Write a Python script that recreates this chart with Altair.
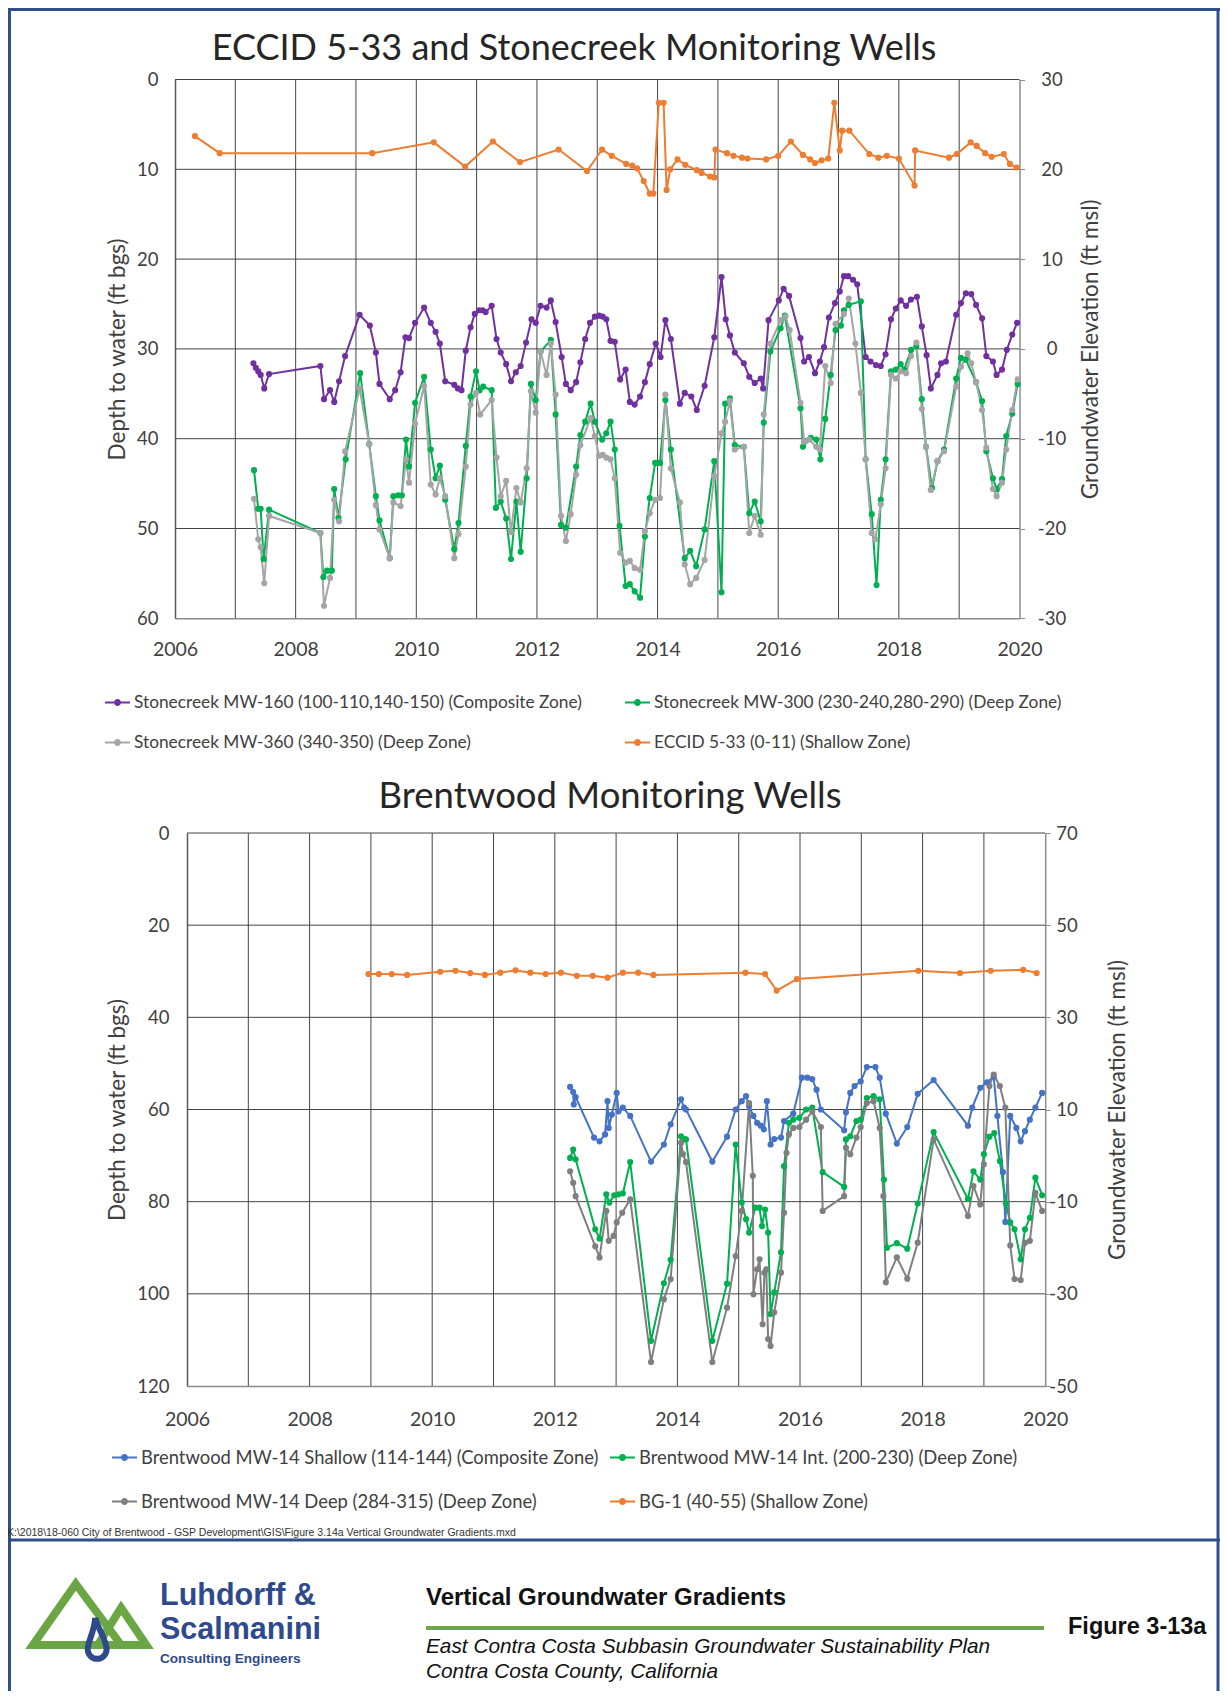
import altair as alt
import pandas as pd

W, H = 1212, 1683
FONT = "Lato"
SANS = "Liberation Sans, Arial, sans-serif"
GRID = "#454545"
TXT = "#404040"

# ---------------- series names / colours ----------------
top_names = ["Stonecreek MW-160 (100-110,140-150) (Composite Zone)",
             "Stonecreek MW-300 (230-240,280-290) (Deep Zone)",
             "Stonecreek MW-360 (340-350) (Deep Zone)",
             "ECCID 5-33 (0-11) (Shallow Zone)"]
top_colors = ["#7030A0", "#00B050", "#A5A5A5", "#ED7D31"]

bot_names = ["Brentwood MW-14 Shallow (114-144) (Composite Zone)",
             "Brentwood MW-14 Int. (200-230) (Deep Zone)",
             "Brentwood MW-14 Deep (284-315) (Deep Zone)",
             "BG-1 (40-55) (Shallow Zone)"]
bot_colors = ["#4472C4", "#00B050", "#7F7F7F", "#ED7D31"]

# legend shows entries row by row; Vega fills columns first, so order 0,2,1,3
LEG_ORDER = [0, 2, 1, 3]

# ---------------- top panel data (decimal year, depth ft bgs) ----------------
mw160_year = [2007.30, 2007.34, 2007.38, 2007.42, 2007.48, 2007.56, 2008.41, 2008.47, 2008.57, 2008.64,
              2008.72, 2008.82, 2009.06, 2009.23, 2009.33, 2009.39, 2009.56, 2009.65, 2009.74, 2009.82,
              2009.88, 2009.98, 2010.13, 2010.24, 2010.32, 2010.39, 2010.48, 2010.63, 2010.69, 2010.75,
              2010.82, 2010.90, 2010.97, 2011.04, 2011.10, 2011.15, 2011.25, 2011.33, 2011.40, 2011.49,
              2011.57, 2011.65, 2011.73, 2011.82, 2011.91, 2011.98, 2012.06, 2012.16, 2012.23, 2012.31,
              2012.41, 2012.48, 2012.56, 2012.65, 2012.72, 2012.80, 2012.88, 2012.96, 2013.03, 2013.09,
              2013.15, 2013.22, 2013.29, 2013.38, 2013.47, 2013.54, 2013.62, 2013.71, 2013.79, 2013.87,
              2013.97, 2014.05, 2014.13, 2014.22, 2014.37, 2014.45, 2014.56, 2014.65, 2014.78, 2014.94,
              2015.06, 2015.13, 2015.20, 2015.28, 2015.43, 2015.52, 2015.61, 2015.71, 2015.75, 2015.84,
              2016.01, 2016.09, 2016.18, 2016.37, 2016.43, 2016.51, 2016.61, 2016.69, 2016.76, 2016.84,
              2016.94, 2017.02, 2017.09, 2017.16, 2017.24, 2017.31, 2017.45, 2017.53, 2017.62, 2017.70,
              2017.78, 2017.87, 2017.95, 2018.03, 2018.12, 2018.20, 2018.30, 2018.38, 2018.46, 2018.53,
              2018.64, 2018.70, 2018.78, 2018.95, 2019.03, 2019.11, 2019.20, 2019.28, 2019.38, 2019.45,
              2019.56, 2019.62, 2019.71, 2019.79, 2019.88, 2019.96]
mw160_depth = [31.6, 32.1, 32.5, 32.9, 34.4, 32.8, 31.9, 35.6, 34.6, 35.9,
               33.6, 30.8, 26.2, 27.4, 30.4, 33.9, 35.6, 34.6, 32.6, 28.7,
               28.8, 27.1, 25.4, 27.1, 28.1, 29.4, 33.6, 34.0, 34.4, 34.6,
               30.2, 27.6, 26.1, 25.7, 25.7, 25.9, 25.2, 28.9, 30.4, 31.7,
               33.6, 32.6, 31.9, 29.3, 26.7, 27.1, 25.2, 25.4, 24.6, 27.0,
               30.9, 33.9, 34.6, 33.7, 31.5, 28.9, 27.1, 26.4, 26.3, 26.4,
               26.7, 29.1, 29.2, 33.4, 32.3, 35.9, 36.2, 35.3, 33.7, 31.7,
               29.4, 30.9, 26.8, 28.9, 36.1, 34.9, 35.3, 36.8, 34.1, 28.7,
               22.0, 26.7, 28.5, 30.4, 31.6, 33.1, 33.8, 33.3, 34.4, 26.8,
               24.6, 23.3, 24.1, 28.8, 31.4, 30.9, 32.7, 31.4, 29.8, 26.5,
               24.9, 23.6, 21.9, 21.9, 22.3, 22.8, 30.9, 31.4, 31.8, 31.9,
               30.6, 26.7, 25.5, 24.6, 25.2, 24.5, 24.2, 27.5, 30.7, 34.4,
               32.9, 31.6, 31.4, 26.2, 24.9, 23.8, 23.9, 25.1, 26.6, 30.8,
               31.4, 32.9, 32.3, 30.1, 28.4, 27.1]

mw300_year = [2007.31, 2007.38, 2007.42, 2007.47, 2007.56, 2008.41, 2008.46, 2008.52, 2008.60, 2008.64,
              2008.71, 2008.83, 2009.07, 2009.22, 2009.33, 2009.39, 2009.56, 2009.62, 2009.70, 2009.76,
              2009.83, 2009.88, 2009.98, 2010.13, 2010.24, 2010.32, 2010.39, 2010.48, 2010.63, 2010.70,
              2010.82, 2010.90, 2010.99, 2011.05, 2011.11, 2011.25, 2011.32, 2011.40, 2011.49, 2011.57,
              2011.66, 2011.73, 2011.83, 2011.90, 2011.98, 2012.06, 2012.23, 2012.31, 2012.40, 2012.48,
              2012.65, 2012.72, 2012.80, 2012.89, 2012.96, 2013.08, 2013.15, 2013.22, 2013.29, 2013.37,
              2013.47, 2013.54, 2013.62, 2013.71, 2013.79, 2013.87, 2013.96, 2014.04, 2014.13, 2014.22,
              2014.45, 2014.54, 2014.64, 2014.78, 2014.94, 2015.06, 2015.12, 2015.20, 2015.28, 2015.43,
              2015.52, 2015.61, 2015.71, 2015.76, 2015.87, 2016.04, 2016.11, 2016.37, 2016.41, 2016.54,
              2016.63, 2016.70, 2016.78, 2016.87, 2016.95, 2017.04, 2017.09, 2017.17, 2017.37, 2017.45,
              2017.55, 2017.63, 2017.70, 2017.78, 2017.87, 2017.95, 2018.03, 2018.09, 2018.20, 2018.29,
              2018.38, 2018.45, 2018.55, 2018.64, 2018.75, 2018.95, 2019.03, 2019.11, 2019.28, 2019.38,
              2019.45, 2019.56, 2019.62, 2019.71, 2019.78, 2019.88, 2019.97]
mw300_depth = [43.5, 47.8, 47.8, 53.4, 47.9, 50.5, 55.4, 54.7, 54.7, 45.6,
               48.8, 42.3, 32.7, 40.6, 46.4, 49.1, 53.3, 46.4, 46.3, 46.3,
               40.1, 43.1, 36.0, 33.1, 41.2, 44.4, 43.0, 46.8, 52.3, 49.4,
               40.8, 35.3, 32.5, 34.6, 34.2, 34.6, 47.7, 47.0, 48.9, 53.4,
               47.0, 52.6, 44.4, 33.9, 35.7, 30.3, 29.0, 37.3, 49.6, 49.9,
               43.1, 39.6, 38.1, 36.1, 38.1, 40.1, 39.4, 38.1, 41.2, 49.7,
               56.4, 56.2, 57.0, 57.7, 50.9, 46.6, 42.7, 42.7, 35.7, 41.2,
               53.3, 52.5, 54.2, 50.1, 42.5, 57.1, 36.1, 35.5, 40.7, 40.9,
               48.3, 47.0, 49.2, 38.2, 30.3, 27.7, 26.3, 36.6, 40.9, 39.9,
               40.1, 42.3, 37.8, 32.9, 27.9, 27.4, 25.7, 25.1, 24.7, 42.3,
               48.4, 56.3, 46.8, 42.3, 32.5, 32.3, 31.7, 32.3, 30.1, 29.7,
               35.6, 40.9, 45.5, 42.5, 41.2, 33.3, 31.0, 31.2, 33.7, 35.8,
               41.4, 44.4, 45.6, 44.5, 39.7, 37.2, 33.9]

mw360_year = [2007.31, 2007.38, 2007.42, 2007.48, 2007.56, 2008.41, 2008.47, 2008.57, 2008.64, 2008.72,
              2008.82, 2009.06, 2009.22, 2009.33, 2009.39, 2009.56, 2009.62, 2009.74, 2009.83, 2009.88,
              2009.98, 2010.13, 2010.24, 2010.32, 2010.39, 2010.48, 2010.63, 2010.70, 2010.82, 2010.90,
              2010.99, 2011.06, 2011.25, 2011.33, 2011.40, 2011.49, 2011.57, 2011.66, 2011.73, 2011.83,
              2011.90, 2011.98, 2012.06, 2012.16, 2012.23, 2012.31, 2012.40, 2012.48, 2012.56, 2012.65,
              2012.72, 2012.89, 2012.96, 2013.03, 2013.09, 2013.15, 2013.22, 2013.29, 2013.38, 2013.47,
              2013.54, 2013.62, 2013.71, 2013.79, 2013.87, 2013.96, 2014.04, 2014.13, 2014.22, 2014.37,
              2014.45, 2014.54, 2014.64, 2014.78, 2014.94, 2015.06, 2015.12, 2015.20, 2015.28, 2015.43,
              2015.52, 2015.61, 2015.71, 2015.76, 2015.87, 2016.04, 2016.12, 2016.19, 2016.37, 2016.43,
              2016.51, 2016.63, 2016.69, 2016.78, 2016.87, 2016.95, 2017.09, 2017.17, 2017.28, 2017.37,
              2017.45, 2017.55, 2017.61, 2017.70, 2017.78, 2017.87, 2017.95, 2018.03, 2018.12, 2018.20,
              2018.29, 2018.38, 2018.45, 2018.53, 2018.64, 2018.75, 2018.95, 2019.03, 2019.14, 2019.20,
              2019.28, 2019.38, 2019.45, 2019.56, 2019.62, 2019.71, 2019.78, 2019.88, 2019.97]
mw360_depth = [46.7, 51.2, 52.1, 56.1, 48.6, 50.5, 58.6, 55.5, 46.8, 49.2,
               41.4, 34.4, 40.6, 47.4, 50.1, 53.3, 47.1, 47.5, 42.3, 44.9,
               38.3, 34.1, 45.1, 46.2, 44.4, 46.4, 53.3, 50.6, 43.1, 36.2,
               34.9, 37.3, 35.7, 42.1, 46.4, 44.7, 50.4, 45.5, 47.1, 43.3,
               34.7, 37.1, 30.3, 32.9, 29.4, 35.1, 48.6, 51.4, 48.4, 44.0,
               40.7, 37.7, 39.7, 41.9, 41.8, 42.1, 42.3, 44.4, 52.7, 53.8,
               53.6, 54.4, 54.6, 50.3, 48.3, 46.8, 46.6, 35.1, 43.3, 47.1,
               54.0, 56.2, 55.5, 53.5, 44.2, 39.4, 38.1, 35.8, 41.2, 40.9,
               50.5, 48.6, 50.7, 37.3, 29.4, 26.8, 26.4, 27.9, 36.0, 40.3,
               40.1, 40.9, 41.2, 31.9, 33.8, 27.2, 26.1, 24.4, 29.4, 34.9,
               42.3, 50.5, 51.2, 47.3, 43.3, 32.9, 33.3, 32.5, 32.7, 30.8,
               29.3, 36.7, 40.9, 45.7, 42.5, 41.4, 34.2, 32.0, 30.5, 31.6,
               33.7, 36.8, 41.0, 45.6, 46.4, 44.9, 41.2, 36.8, 33.4]

eccid_year = [2006.33, 2006.74, 2009.27, 2010.29, 2010.81, 2011.27, 2011.72, 2012.36, 2012.83, 2013.08,
              2013.24, 2013.48, 2013.58, 2013.66, 2013.77, 2013.87, 2013.93, 2014.02, 2014.10, 2014.15,
              2014.21, 2014.33, 2014.46, 2014.65, 2014.73, 2014.87, 2014.94, 2014.96, 2015.15, 2015.26,
              2015.40, 2015.49, 2015.80, 2016.00, 2016.21, 2016.41, 2016.53, 2016.61, 2016.72, 2016.83,
              2016.93, 2017.02, 2017.06, 2017.18, 2017.51, 2017.66, 2017.80, 2018.00, 2018.26, 2018.27,
              2018.83, 2018.96, 2019.19, 2019.29, 2019.43, 2019.54, 2019.74, 2019.84, 2019.95]
eccid_depth = [6.3, 8.2, 8.2, 7.0, 9.7, 6.9, 9.2, 7.8, 10.2, 7.8,
               8.5, 9.4, 9.6, 9.9, 11.3, 12.7, 12.7, 2.6, 2.6, 12.3,
               10.0, 8.9, 9.5, 10.1, 10.4, 10.8, 10.9, 7.8, 8.2, 8.5,
               8.7, 8.8, 8.9, 8.5, 6.9, 8.4, 8.9, 9.3, 9.0, 8.8,
               2.6, 7.9, 5.7, 5.7, 8.3, 8.7, 8.5, 8.8, 11.8, 7.9,
               8.7, 8.3, 7.0, 7.4, 8.2, 8.6, 8.3, 9.4, 9.8]

# ---------------- bottom panel data ----------------
shal_year = [2012.25, 2012.30, 2012.34, 2012.31, 2012.64, 2012.73, 2012.82, 2012.86, 2012.88, 2012.93,
             2013.01, 2013.04, 2013.11, 2013.23, 2013.57, 2013.78, 2013.89, 2014.06, 2014.11, 2014.14,
             2014.57, 2014.81, 2014.95, 2015.05, 2015.12, 2015.17, 2015.24, 2015.30, 2015.36, 2015.41,
             2015.46, 2015.52, 2015.58, 2015.69, 2015.74, 2015.89, 2016.03, 2016.12, 2016.20, 2016.27,
             2016.34, 2016.72, 2016.75, 2016.82, 2016.89, 2016.99, 2017.09, 2017.23, 2017.30, 2017.40,
             2017.58, 2017.75, 2017.92, 2018.18, 2018.74, 2018.81, 2018.94, 2019.05, 2019.16, 2019.22,
             2019.31, 2019.35, 2019.43, 2019.53, 2019.60, 2019.67, 2019.75, 2019.84, 2019.95]
shal_depth = [55.1, 56.2, 57.3, 58.9, 66.1, 66.9, 65.4, 58.2, 64.0, 61.1,
              56.4, 60.4, 59.6, 61.4, 71.3, 67.6, 63.2, 57.8, 59.6, 60.0,
              71.3, 65.9, 60.0, 58.2, 57.1, 59.3, 61.4, 62.9, 63.5, 64.3,
              58.2, 67.6, 66.4, 66.1, 62.5, 60.9, 53.1, 53.1, 53.4, 55.7,
              60.0, 64.5, 60.6, 56.4, 54.9, 53.9, 50.8, 50.8, 53.1, 60.9,
              67.4, 63.8, 56.6, 53.6, 63.5, 59.6, 55.3, 54.1, 52.9, 61.4,
              73.6, 84.4, 61.4, 64.0, 66.9, 64.7, 62.2, 59.6, 56.4]

int_year = [2012.25, 2012.30, 2012.34, 2012.66, 2012.73, 2012.84, 2012.89, 2012.97, 2013.04, 2013.11,
            2013.23, 2013.57, 2013.78, 2013.89, 2014.06, 2014.11, 2014.14, 2014.57, 2014.81, 2014.95,
            2015.05, 2015.12, 2015.17, 2015.27, 2015.34, 2015.38, 2015.43, 2015.48, 2015.52, 2015.58,
            2015.69, 2015.74, 2015.82, 2015.89, 2015.99, 2016.10, 2016.20, 2016.37, 2016.72, 2016.75,
            2016.82, 2016.92, 2016.99, 2017.09, 2017.20, 2017.30, 2017.37, 2017.42, 2017.58, 2017.75,
            2017.92, 2018.18, 2018.74, 2018.83, 2018.94, 2019.00, 2019.09, 2019.17, 2019.26, 2019.36,
            2019.43, 2019.50, 2019.60, 2019.67, 2019.75, 2019.84, 2019.95]
int_depth = [70.5, 68.7, 70.8, 86.0, 88.0, 78.4, 80.2, 78.6, 78.4, 78.2,
             71.4, 110.2, 97.7, 92.6, 65.8, 66.4, 66.5, 110.2, 97.8, 67.6,
             80.2, 83.8, 86.7, 81.3, 81.3, 85.3, 81.7, 86.7, 104.4, 99.7,
             91.0, 72.3, 62.9, 62.2, 61.8, 60.0, 59.6, 73.6, 76.8, 66.5,
             65.8, 62.5, 62.2, 57.5, 57.1, 57.8, 75.2, 90.0, 89.0, 90.2,
             80.4, 64.9, 79.4, 73.4, 75.2, 69.7, 65.9, 65.1, 71.2, 80.4,
             84.5, 86.0, 92.5, 86.0, 83.5, 74.8, 78.6]

deep_year = [2012.25, 2012.30, 2012.34, 2012.66, 2012.73, 2012.84, 2012.88, 2012.96, 2013.01, 2013.10,
             2013.23, 2013.57, 2013.78, 2013.89, 2014.06, 2014.09, 2014.14, 2014.57, 2014.81, 2014.95,
             2015.05, 2015.17, 2015.23, 2015.24, 2015.30, 2015.34, 2015.39, 2015.42, 2015.45, 2015.48,
             2015.52, 2015.58, 2015.69, 2015.74, 2015.78, 2015.82, 2015.89, 2015.99, 2016.10, 2016.20,
             2016.34, 2016.37, 2016.72, 2016.75, 2016.82, 2016.92, 2016.99, 2017.09, 2017.20, 2017.30,
             2017.36, 2017.40, 2017.58, 2017.75, 2017.92, 2018.18, 2018.74, 2018.83, 2018.94, 2019.00,
             2019.09, 2019.16, 2019.26, 2019.35, 2019.43, 2019.50, 2019.60, 2019.67, 2019.75, 2019.84,
             2019.95]
deep_depth = [73.4, 75.9, 78.8, 89.7, 92.1, 82.0, 88.5, 87.4, 84.5, 82.4,
              79.5, 114.8, 101.2, 96.8, 67.2, 69.7, 71.4, 114.8, 103.0, 91.8,
              82.0, 58.6, 74.4, 100.1, 94.7, 92.5, 106.6, 95.4, 94.7, 109.8,
              111.3, 104.0, 95.4, 82.4, 69.4, 65.4, 64.0, 63.8, 62.2, 60.4,
              63.8, 82.0, 78.8, 68.3, 69.7, 66.1, 63.8, 58.6, 58.2, 64.0,
              78.8, 97.5, 92.1, 96.7, 88.9, 66.5, 83.1, 76.6, 80.6, 71.9,
              54.9, 52.4, 54.9, 59.6, 89.5, 96.8, 97.0, 88.9, 88.5, 78.1,
              82.0]

bg1_year = [2008.96, 2009.13, 2009.34, 2009.59, 2010.13, 2010.38, 2010.62, 2010.86, 2011.11, 2011.36,
            2011.60, 2011.85, 2012.10, 2012.36, 2012.62, 2012.86, 2013.11, 2013.36, 2013.61, 2015.11,
            2015.43, 2015.62, 2015.95, 2017.93, 2018.61, 2019.11, 2019.64, 2019.86]
bg1_depth = [30.6, 30.6, 30.6, 30.8, 30.1, 29.9, 30.4, 30.8, 30.3, 29.8,
             30.3, 30.6, 30.3, 31.0, 31.0, 31.4, 30.3, 30.3, 30.8, 30.3,
             30.6, 34.2, 31.7, 29.9, 30.4, 29.9, 29.7, 30.4]

years_all = list(range(2006, 2021))
top_elev_ticks = [-30, -20, -10, 0, 10, 20, 30]
bot_elev_ticks = [-50, -30, -10, 10, 30, 50, 70]


def build(names, years, depths):
    rows = []
    for n, ys_, ds in zip(names, years, depths):
        for y, d in zip(ys_, ds):
            rows.append({"series": n, "year": y, "depth": d})
    return pd.DataFrame(rows)


top_df = build(top_names, [mw160_year, mw300_year, mw360_year, eccid_year],
               [mw160_depth, mw300_depth, mw360_depth, eccid_depth])
bot_df = build(bot_names, [shal_year, int_year, deep_year, bg1_year],
               [shal_depth, int_depth, deep_depth, bg1_depth])

SYMBOL = ("M-1,-0.08H1V0.08H-1Z"
          "M0.28,0A0.28,0.28,0,1,1,-0.28,0A0.28,0.28,0,1,1,0.28,0Z")
HYPHEN = "replace(datum.label, '\u2212', '-')"


def panel(df, names, colors, XR, YR, dmax, dstep, edom, eticks, rtitle,
          lt_dx, rt_dx, lab_pad_l, lab_pad_r, r_align, xlab_pad, leg_x, leg_y,
          col_pad, row_pad, leg_font):
    xs = lambda: alt.Scale(domain=[2006, 2020], range=XR, nice=False, zero=False)
    ys = lambda: alt.Scale(domain=[0, dmax], range=YR, nice=False, zero=False)
    mid = (YR[0] + YR[1]) / 2
    out = []
    vg = pd.DataFrame({"year": years_all[1:-1], "d0": 0, "d1": dmax})
    out.append(alt.Chart(vg).mark_rule(color=GRID, strokeWidth=1).encode(
        x=alt.X("year:Q", scale=xs(), axis=None),
        y=alt.Y("d0:Q", scale=ys(), axis=None), y2="d1:Q"))
    hg = pd.DataFrame({"depth": list(range(0, dmax, dstep)), "x0": 2006, "x1": 2020})
    out.append(alt.Chart(hg).mark_rule(color=GRID, strokeWidth=1).encode(
        y=alt.Y("depth:Q", scale=ys(), axis=None),
        x=alt.X("x0:Q", scale=xs(), axis=None), x2="x1:Q"))
    leg_names = [names[i] for i in LEG_ORDER]
    leg_cols = [colors[i] for i in LEG_ORDER]
    cscale = lambda: alt.Scale(domain=leg_names, range=leg_cols)
    out.append(alt.Chart(df).mark_line(strokeWidth=2).encode(
        x=alt.X("year:Q", scale=xs(), axis=alt.Axis(
            orient="bottom", offset=YR[1] - H, values=years_all[::2], format="d",
            grid=False, ticks=False, labelFlush=False, labelOverlap=False, labelFontSize=19.5,
            labelPadding=xlab_pad, title=None, domainColor="#8c8c8c", domainWidth=1.5)),
        y=alt.Y("depth:Q", scale=ys(), axis=alt.Axis(
            orient="left", offset=-XR[0], values=list(range(0, dmax + 1, dstep)),
            grid=False, ticks=False, labelPadding=lab_pad_l, title="Depth to water (ft bgs)",
            titleX=lt_dx, titleY=mid, titleAngle=270, titleAlign="center",
            titleBaseline="middle", domainColor="#595959", domainWidth=1.5)),
        color=alt.Color("series:N", scale=cscale(), legend=None),
        detail="series:N"))
    out.append(alt.Chart(df).mark_circle(size=38, opacity=1).encode(
        x=alt.X("year:Q", scale=xs(), axis=None),
        y=alt.Y("depth:Q", scale=ys(), axis=None),
        color=alt.Color("series:N", scale=cscale(), legend=alt.Legend(
            title=None, orient="none", legendX=leg_x, legendY=leg_y, columns=2,
            columnPadding=col_pad, rowPadding=row_pad, symbolType=SYMBOL, symbolSize=625,
            symbolStrokeWidth=0, symbolOpacity=1, labelFont=FONT, labelFontSize=leg_font,
            labelColor=TXT, labelLimit=1000, labelOffset=4, padding=0))))
    ed = pd.DataFrame({"elev": eticks})
    out.append(alt.Chart(ed).mark_point(opacity=0).encode(
        y=alt.Y("elev:Q", scale=alt.Scale(domain=[edom[0], edom[1]], range=[YR[1], YR[0]],
                                          nice=False, zero=False),
                axis=alt.Axis(orient="right", offset=XR[1] - W, values=eticks, grid=False,
                              ticks=True, tickSize=5, tickColor="#8c8c8c", labelExpr=HYPHEN,
                              labelAlign=r_align, labelPadding=lab_pad_r, title=rtitle,
                              titleX=rt_dx, titleY=mid, titleAngle=270, titleAlign="center",
                              titleBaseline="middle", domainColor="#8c8c8c", domainWidth=1.5))))
    return out


top_layers = panel(top_df, top_names, top_colors, [167, 1011.5], [71.5, 610.3], 60, 10,
                   [-30, 30], top_elev_ticks, "Groundwater Elevation (ft msl)",
                   -58, 71, 17, 27, "center", 22, 97, 682, 43, 19, 17.3)
bot_layers = panel(bot_df, bot_names, bot_colors, [179, 1037.2], [825, 1378], 120, 20,
                   [-50, 70], bot_elev_ticks, "Groundwater  Elevation (ft msl)",
                   -70, 72, 18, 27, "right", 24.5, 104, 1437, 11, 22, 18.4)

one = pd.DataFrame({"k": [0]})


def txt(s, x, y, size, font=FONT, weight="normal", style="normal", color="#262626", align="left"):
    return alt.Chart(one).mark_text(text=s, font=font, fontSize=size, fontWeight=weight,
                                    fontStyle=style, color=color, align=align,
                                    baseline="middle").encode(x=alt.value(x), y=alt.value(y))


def rule(x, x2, y, y2, color, w):
    return alt.Chart(one).mark_rule(color=color, strokeWidth=w).encode(
        x=alt.value(x), x2=alt.value(x2), y=alt.value(y), y2=alt.value(y2))


def logo(shape, color, w):
    return alt.Chart(one).mark_point(shape=shape, filled=False, stroke=color, strokeWidth=w,
                                     size=15876, opacity=1).encode(
        x=alt.value(86), y=alt.value(1613))


FRAME = "#2E4F8A"
LOGO_BLUE = "#2E4A8C"
deco = [
    rule(1.5, 1.5, 0, H, FRAME, 3),
    rule(1210, 1210, 0, H, FRAME, 3),
    rule(0, 1212, 1.5, 1.5, FRAME, 3),
    rule(0, 1212, 1532, 1532, FRAME, 3),
    txt("ECCID 5-33 and Stonecreek Monitoring Wells", 566, 41, 36, align="center"),
    txt("Brentwood Monitoring Wells", 602, 789, 36.5, align="center"),
    txt("K:\\2018\\18-060  City of Brentwood - GSP Development\\GIS\\Figure 3.14a Vertical Groundwater Gradients.mxd",
        -1, 1525, 10.5, font=SANS, color="#333333"),
    logo("M-0.29,-0.59L0.43,0.38L-0.97,0.38Z", "#6BA644", 8),
    logo("M0.43,-0.21L0.83,0.38L0.06,0.38Z", "#6BA644", 8),
    logo("M0.02,-0.05C0.06,0.12,0.2,0.3,0.2,0.45A0.15,0.15,0,1,1,-0.1,0.45C-0.1,0.32,0,0.2,0.02,-0.05",
         LOGO_BLUE, 6),
    txt("Luhdorff &", 152, 1588, 30.5, font=SANS, weight="bold", color=LOGO_BLUE),
    txt("Scalmanini", 152, 1622, 30.5, font=SANS, weight="bold", color=LOGO_BLUE),
    txt("Consulting Engineers", 152, 1651, 13.6, font=SANS, weight="bold", color=LOGO_BLUE),
    txt("Vertical Groundwater Gradients", 418, 1590, 24, font=SANS, weight="bold",
        color="#111111"),
    rule(418, 1036, 1620, 1620, "#6AA84F", 4),
    txt("Figure 3-13a", 1060, 1619, 23.5, font=SANS, weight="bold", color="#111111"),
    txt("East Contra Costa Subbasin Groundwater Sustainability Plan", 418, 1639, 20.8,
        font=SANS, style="italic", color="#111111"),
    txt("Contra Costa County, California", 418, 1664, 20.8,
        font=SANS, style="italic", color="#111111"),
]

chart = alt.layer(*(top_layers + bot_layers + deco)).resolve_scale(
    x="independent", y="independent", color="independent"
).properties(
    width=W, height=H, autosize=alt.AutoSizeParams(type="none"), padding=0, background="white"
).configure_view(stroke=None).configure_axis(
    labelFont=FONT, labelFontSize=18.5, labelColor=TXT,
    titleFont=FONT, titleFontSize=22.5, titleColor=TXT, titleFontWeight="normal"
)

chart.save("out.html", embed_options={"renderer": "svg", "actions": False})
